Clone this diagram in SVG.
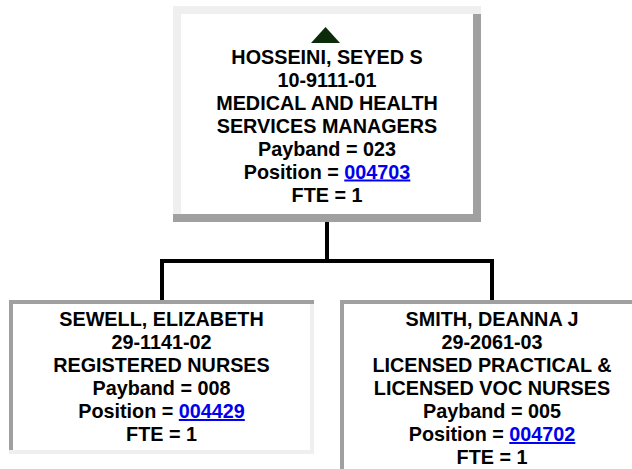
<svg xmlns="http://www.w3.org/2000/svg" width="632" height="469" viewBox="0 0 632 469">
<style>
.t{font-family:"Liberation Sans",Arial,sans-serif;font-weight:bold;font-size:19.8px;fill:#000;text-anchor:middle}
.lk{fill:#0000ee;text-decoration:underline}
.lt{fill:#efefef}
.dk{fill:#a0a0a0}
.c{stroke:#000;stroke-width:4;fill:none}
</style>
<rect width="632" height="469" fill="#fff"/>
<g id="connectors">
<path class="c" d="M327 222V261M162 261H492M162 259V300M492 259V300"/>
</g>
<g id="node-hosseini">
<rect x="173" y="6" width="308" height="216" fill="#fff"/>
<rect class="lt" x="173" y="6" width="308" height="8"/>
<rect class="lt" x="173" y="6" width="8" height="208"/>
<rect class="dk" x="473" y="14" width="8" height="208"/>
<rect class="dk" x="173" y="214" width="308" height="8"/>
<polygon points="311,43 325.5,27 340,43" fill="#0b2b0b"/>
<text class="t" x="327" y="63.5">HOSSEINI, SEYED S</text>
<text class="t" x="327" y="86.5">10-9111-01</text>
<text class="t" x="327" y="109.5">MEDICAL AND HEALTH</text>
<text class="t" x="327" y="132.5">SERVICES MANAGERS</text>
<text class="t" x="327" y="155.5">Payband = 023</text>
<text class="t" x="327" y="178.5">Position = <tspan class="lk">004703</tspan></text>
<text class="t" x="327" y="201.5">FTE = 1</text>
</g>
<g id="node-sewell">
<rect x="9" y="300" width="305" height="154" fill="#fff"/>
<rect class="dk" x="9" y="300" width="305" height="4"/>
<rect class="dk" x="9" y="300" width="4" height="150"/>
<rect class="lt" x="310" y="304" width="4" height="150"/>
<rect class="lt" x="9" y="450" width="305" height="4"/>
<text class="t" x="161.5" y="326">SEWELL, ELIZABETH</text>
<text class="t" x="161.5" y="349">29-1141-02</text>
<text class="t" x="161.5" y="372">REGISTERED NURSES</text>
<text class="t" x="161.5" y="395">Payband = 008</text>
<text class="t" x="161.5" y="418">Position = <tspan class="lk">004429</tspan></text>
<text class="t" x="161.5" y="441">FTE = 1</text>
</g>
<g id="node-smith">
<rect x="340" y="300" width="304" height="180" fill="#fff"/>
<rect class="dk" x="340" y="300" width="304" height="4"/>
<rect class="dk" x="340" y="300" width="4" height="180"/>
<text class="t" x="492" y="326">SMITH, DEANNA J</text>
<text class="t" x="492" y="349">29-2061-03</text>
<text class="t" x="492" y="372">LICENSED PRACTICAL &amp;</text>
<text class="t" x="492" y="395">LICENSED VOC NURSES</text>
<text class="t" x="492" y="418">Payband = 005</text>
<text class="t" x="492" y="441">Position = <tspan class="lk">004702</tspan></text>
<text class="t" x="492" y="464">FTE = 1</text>
</g>
</svg>
